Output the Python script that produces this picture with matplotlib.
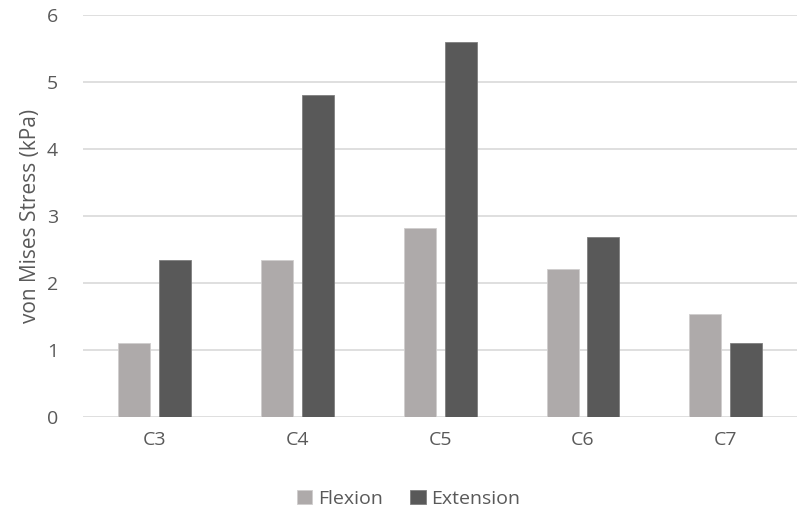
import numpy as np
import matplotlib.pyplot as plt

# data
levels = ['C3', 'C4', 'C5', 'C6', 'C7']
flexion = [1.11, 2.35, 2.82, 2.21, 1.54]
extension = [2.34, 4.80, 5.59, 2.69, 1.11]

plt.rcParams['font.family'] = ['Open Sans', 'DejaVu Sans']
txt = '#595959'

fig = plt.figure(figsize=(7.98, 5.13), dpi=100)
ax = fig.add_axes([0.104, 0.187, 0.895, 0.784])

x = np.arange(len(levels))
w = 0.224
ax.bar(x - 0.143, flexion, w, color='#AEAAAA', edgecolor='#D0CECE', linewidth=0.6, label='Flexion', zorder=3)
ax.bar(x + 0.143, extension, w, color='#595959', edgecolor='#7F7F7F', linewidth=0.6, label='Extension', zorder=3)

ax.set_xlim(-0.5, len(levels) - 0.5)
ax.set_ylim(0, 6)
ax.set_yticks(range(7))
ax.set_xticks(x)
ax.set_xticklabels(levels)
ax.yaxis.grid(True, color='#D9D9D9', linewidth=1.2, zorder=0)
for s in ['top', 'right', 'left', 'bottom']:
    ax.spines[s].set_visible(False)
ax.tick_params(axis='both', length=0, labelsize=14, colors=txt)
ax.tick_params(axis='y', pad=18)
ax.tick_params(axis='x', pad=10)
ax.set_ylabel('von Mises Stress (kPa)', fontsize=15, color=txt, labelpad=4)

leg = fig.legend(loc='center', bbox_to_anchor=(0.512, 0.028), ncol=2, frameon=False,
                 fontsize=14, handlelength=0.8, handleheight=0.8, handletextpad=0.3,
                 columnspacing=1.4)
for t in leg.get_texts():
    t.set_color(txt)

fig.savefig('out.png', dpi=100)
